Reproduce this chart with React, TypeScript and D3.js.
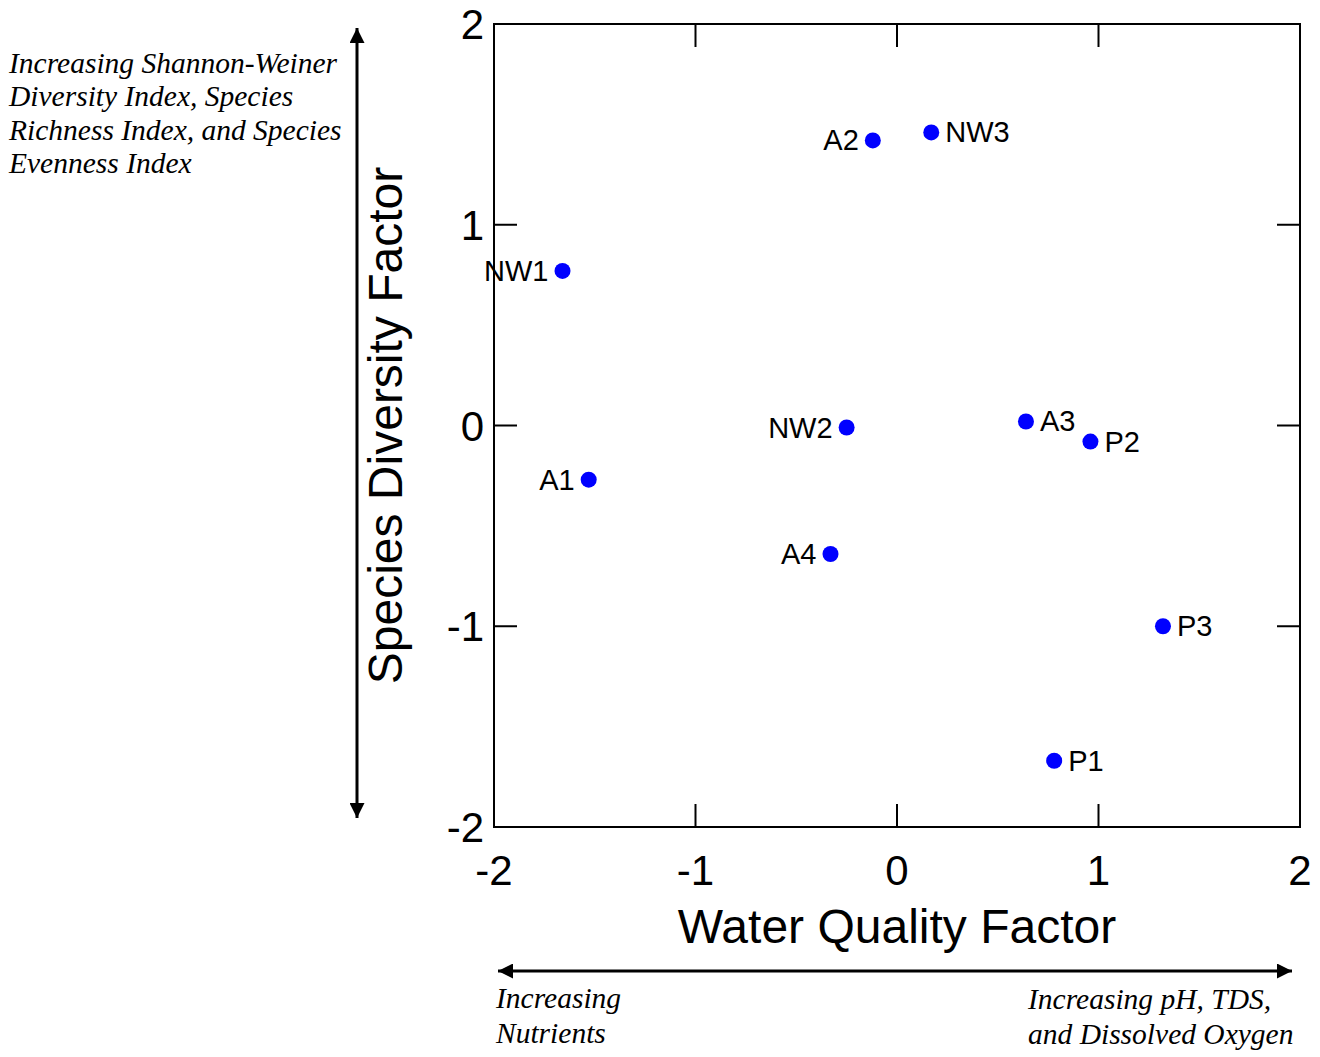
import React from "react";
import * as d3 from "d3";

const sites = ["A2", "NW3", "NW1", "NW2", "A3", "P2", "A1", "A4", "P3", "P1"];
const waterQuality = [-0.12, 0.17, -1.66, -0.25, 0.64, 0.96, -1.53, -0.33, 1.32, 0.78];
const speciesDiversity = [1.42, 1.46, 0.77, -0.01, 0.02, -0.08, -0.27, -0.64, -1.0, -1.67];
const labelSide = ["left", "right", "left", "left", "right", "right", "left", "left", "right", "right"];
const tickValues = [-2, -1, 0, 1, 2];

export default function App() {
  const W = 1320, H = 1057;
  const left = 494, right = 1300, top = 24, bottom = 827;
  const x = d3.scaleLinear().domain([-2, 2]).range([left, right]);
  const y = d3.scaleLinear().domain([-2, 2]).range([bottom, top]);
  const tickLen = 23;
  const sans = "'Liberation Sans', Arial, sans-serif";
  const serif = "'Liberation Serif', 'Times New Roman', serif";
  return (
    <svg width={W} height={H} style={{ position: "absolute", left: 0, top: 0, background: "#fff" }}>
      <defs>
        <marker id="ah" viewBox="0 0 10 10" refX="10" refY="5" markerWidth="15" markerHeight="15" markerUnits="userSpaceOnUse" orient="auto-start-reverse">
          <path d="M0,0 L10,5 L0,10 z" fill="#000" />
        </marker>
      </defs>
      <rect x={0} y={0} width={W} height={H} fill="#fff" />
      <rect x={left} y={top} width={right - left} height={bottom - top} fill="none" stroke="#000" strokeWidth={2} />
      {tickValues.map((t) => (
        <g key={"xt" + t}>
          <line x1={x(t)} x2={x(t)} y1={bottom} y2={bottom - tickLen} stroke="#000" strokeWidth={2} />
          <line x1={x(t)} x2={x(t)} y1={top} y2={top + tickLen} stroke="#000" strokeWidth={2} />
          <text x={x(t)} y={bottom + 58} textAnchor="middle" fontFamily={sans} fontSize={42}>{t}</text>
        </g>
      ))}
      {tickValues.map((t) => (
        <g key={"yt" + t}>
          <line x1={left} x2={left + tickLen} y1={y(t)} y2={y(t)} stroke="#000" strokeWidth={2} />
          <line x1={right} x2={right - tickLen} y1={y(t)} y2={y(t)} stroke="#000" strokeWidth={2} />
          <text x={left - 10} y={y(t) + 15} textAnchor="end" fontFamily={sans} fontSize={42}>{t}</text>
        </g>
      ))}
      <text x={(left + right) / 2} y={943} textAnchor="middle" fontFamily={sans} fontSize={48}>Water Quality Factor</text>
      <text transform={`translate(402,${(top + bottom) / 2}) rotate(-90)`} textAnchor="middle" fontFamily={sans} fontSize={48}>Species Diversity Factor</text>
      {sites.map((s, i) => {
        const px = x(waterQuality[i]);
        const py = y(speciesDiversity[i]);
        const isLeft = labelSide[i] === "left";
        return (
          <g key={s}>
            <circle cx={px} cy={py} r={8} fill="#0000ff" />
            <text x={isLeft ? px - 14 : px + 14} y={py + 10} textAnchor={isLeft ? "end" : "start"} fontFamily={sans} fontSize={29}>{s}</text>
          </g>
        );
      })}
      <line x1={357} x2={357} y1={28} y2={818} stroke="#000" strokeWidth={3} markerStart="url(#ah)" markerEnd="url(#ah)" />
      <line x1={498} x2={1292} y1={971} y2={971} stroke="#000" strokeWidth={3} markerStart="url(#ah)" markerEnd="url(#ah)" />
      <g fontFamily={serif} fontStyle="italic" fontSize={29.5}>
        <text x={9} y={73}>Increasing Shannon-Weiner</text>
        <text x={9} y={106}>Diversity Index, Species</text>
        <text x={9} y={140}>Richness Index, and Species</text>
        <text x={9} y={173}>Evenness Index</text>
        <text x={496} y={1008}>Increasing</text>
        <text x={496} y={1043}>Nutrients</text>
        <text x={1028} y={1009}>Increasing pH, TDS,</text>
        <text x={1028} y={1044}>and Dissolved Oxygen</text>
      </g>
    </svg>
  );
}
